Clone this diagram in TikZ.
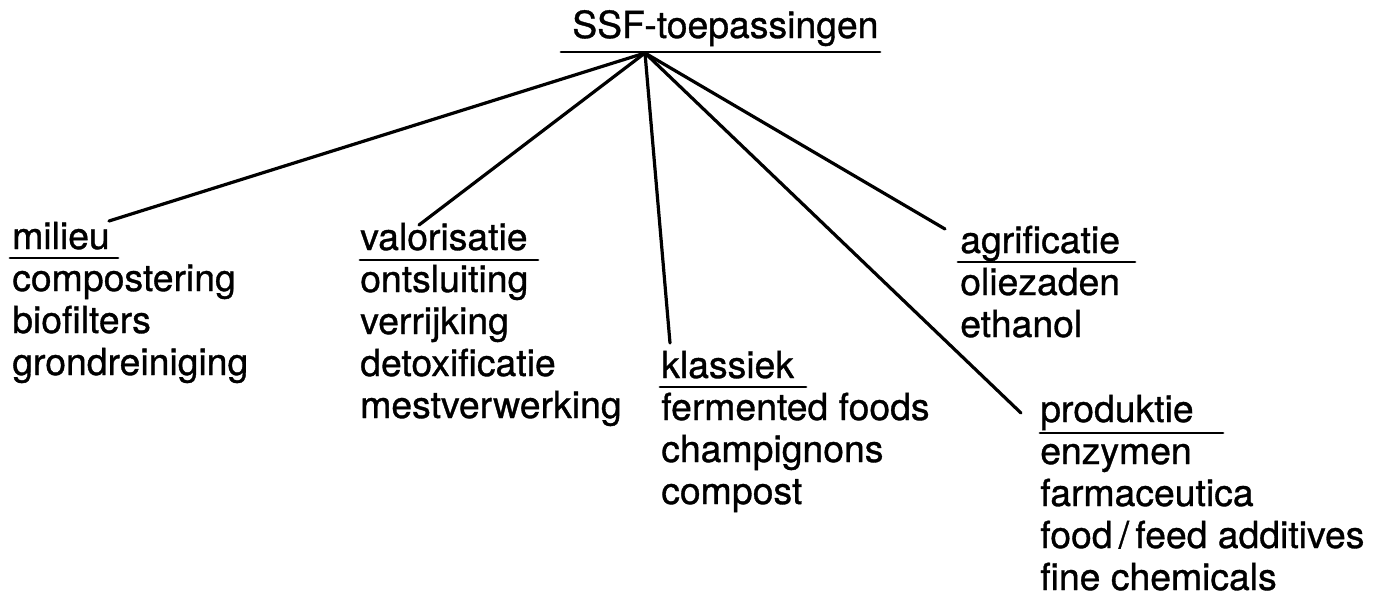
\documentclass[tikz,border=0pt]{standalone}
\usepackage{fontspec}
\setmainfont{TeX Gyre Heros}[FakeBold=0.9]
\begin{document}
\begin{tikzpicture}[x=0.75pt,y=-0.75pt,
  lbl/.style={anchor=base west, inner sep=0pt, font=\fontsize{28}{31.5}\selectfont},
  uline/.style={line width=2.2pt, line cap=round},
  branch/.style={line width=2.4pt, line cap=round}]
\useasboundingbox (0,0) rectangle (1379,601);

% root
\node[lbl] (root) at (572,38) {SSF-toepassingen};
\draw[uline] (561,52) -- (880,52);
\coordinate (hub) at (645,53);

% milieu
\node[lbl] (milieu) at (12,249) {milieu};
\draw[uline] (10,258) -- (118,258);
\foreach \t [count=\i] in {compostering,biofilters,grondreiniging}
  \node[lbl, name=mil-\i] at (12,249+42*\i) {\t};
\coordinate (e-milieu) at (109,221);

% valorisatie
\node[lbl] (valor) at (360,250) {valorisatie};
\draw[uline] (360,260) -- (538,260);
\foreach \t [count=\i] in {ontsluiting,verrijking,detoxificatie,mestverwerking}
  \node[lbl, name=val-\i] at (360,250+42*\i) {\t};
\coordinate (e-valor) at (419,225);

% klassiek
\node[lbl] (klass) at (661,378) {klassiek};
\draw[uline] (660,387) -- (806,387);
\foreach \t [count=\i] in {fermented foods,champignons,compost}
  \node[lbl, name=kla-\i] at (661,378+42*\i) {\t};
\coordinate (e-klass) at (670,343);

% agrificatie
\node[lbl] (agri) at (960,253) {agrificatie};
\draw[uline] (958,262) -- (1135,262);
\foreach \t [count=\i] in {oliezaden,ethanol}
  \node[lbl, name=agr-\i] at (960,253+42*\i) {\t};
\coordinate (e-agri) at (945,229);

% produktie
\node[lbl] (prod) at (1040,422) {produktie};
\draw[uline] (1040,433) -- (1223,433);
\foreach \t [count=\i] in {enzymen,farmaceutica,food\,/\,feed additives,fine chemicals}
  \node[lbl, name=pro-\i] at (1040,422+42*\i) {\t};
\coordinate (e-prod) at (1021,413);

% branches from the hub
\foreach \e in {e-milieu,e-valor,e-klass,e-agri,e-prod}
  \draw[branch] (hub) -- (\e);
\end{tikzpicture}
\end{document}
